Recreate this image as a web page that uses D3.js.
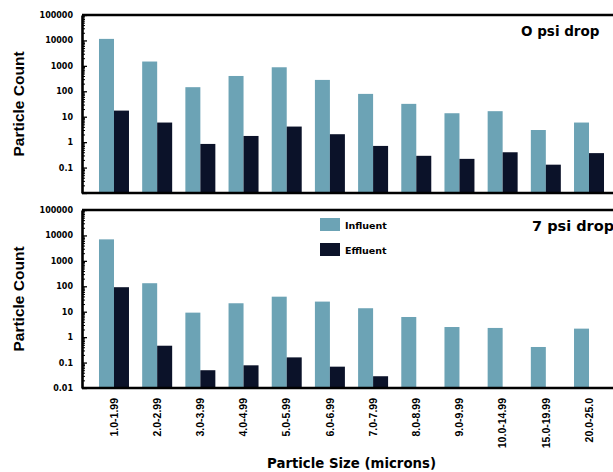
<!DOCTYPE html>
<html>
<head>
<meta charset="utf-8">
<script src="https://cdn.jsdelivr.net/npm/d3@7"></script>
<style>
  html, body { margin: 0; padding: 0; background: #fff; }
  svg { display: block; }
  .wide { font-family: "DejaVu Sans", sans-serif; font-weight: bold; }
  .narrow { font-family: "Liberation Sans", Arial, sans-serif; font-weight: bold; }
</style>
</head>
<body>
<svg id="chart" width="613" height="472"></svg>
<script>
// Particle size bins (microns)
const categories = ["1.0-1.99", "2.0-2.99", "3.0-3.99", "4.0-4.99", "5.0-5.99", "6.0-6.99",
                    "7.0-7.99", "8.0-8.99", "9.0-9.99", "10.0-14.99", "15.0-19.99", "20.0-25.0"];

// 0 psi drop
const influent0 = [11500, 1480, 145, 400, 880, 280, 79, 32, 13.7, 16.5, 3.0, 5.9];
const effluent0 = [17.4, 5.9, 0.85, 1.75, 4.1, 2.05, 0.71, 0.29, 0.22, 0.40, 0.13, 0.37];

// 7 psi drop
const influent7 = [7000, 132, 9.2, 21.5, 39, 25, 13.7, 6.2, 2.5, 2.3, 0.41, 2.16];
const effluent7 = [92, 0.46, 0.05, 0.078, 0.16, 0.069, 0.029, null, null, null, null, null];

const seriesNames = ["Influent", "Effluent"];
const yTickValues = [0.01, 0.1, 1, 10, 100, 1000, 10000, 100000];
const panelTitles = ["O psi drop", "7 psi drop"];

const colors = { Influent: "#6ca3b5", Effluent: "#0b1229" };

const svg = d3.select("#chart");
const left = 82, right = 621;

const x = d3.scaleBand()
  .domain(categories)
  .range([left, right])
  .paddingInner(0.3056)
  .paddingOuter(0.3935);

const xSub = d3.scaleBand()
  .domain(seriesNames)
  .range([0, x.bandwidth()])
  .padding(0);

// minor ticks at 2..9 of each decade
const minorTicks = [];
for (let e = -2; e < 5; e++) {
  for (let m = 2; m <= 9; m++) minorTicks.push(m * Math.pow(10, e));
}

const fmt = d => d >= 1 ? String(d) : String(+d.toPrecision(1));

function drawPanel(top, bottom, influent, effluent, title, opts) {
  const y = d3.scaleLog().domain([0.01, 100000]).range([bottom, top]);
  const g = svg.append("g");

  // bars
  const rows = categories.map((c, i) => ({ c, Influent: influent[i], Effluent: effluent[i] }));
  const grp = g.selectAll("g.grp").data(rows).join("g")
    .attr("transform", d => `translate(${x(d.c)},0)`);
  grp.selectAll("rect")
    .data(d => seriesNames.map(s => ({ s, v: d[s] })).filter(e => e.v != null))
    .join("rect")
    .attr("x", e => xSub(e.s))
    .attr("width", xSub.bandwidth())
    .attr("y", e => y(e.v))
    .attr("height", e => y(0.01) - y(e.v))
    .attr("fill", e => colors[e.s]);

  // left axis with inward ticks
  const labelled = opts.showBottomLabel ? yTickValues : yTickValues.filter(v => v > 0.01);
  const yAxis = g.append("g")
    .attr("transform", `translate(${left},0)`)
    .call(d3.axisLeft(y).tickValues(yTickValues).tickSize(-5).tickSizeOuter(0)
      .tickPadding(9).tickFormat(d => labelled.includes(d) ? fmt(d) : ""));
  yAxis.select(".domain").attr("stroke", "#000").attr("stroke-width", 2.6);
  yAxis.selectAll(".tick line").attr("stroke", "#000").attr("stroke-width", 1.3);
  yAxis.selectAll(".tick text").attr("class", "wide").attr("font-size", 8).attr("fill", "#000");

  const yMinor = g.append("g")
    .attr("transform", `translate(${left},0)`)
    .call(d3.axisLeft(y).tickValues(minorTicks).tickSize(-3).tickSizeOuter(0).tickFormat(""));
  yMinor.select(".domain").remove();
  yMinor.selectAll(".tick line").attr("stroke", "#000").attr("stroke-width", 1);

  // top frame line
  const tAxis = g.append("g")
    .attr("transform", `translate(0,${top})`)
    .call(d3.axisTop(x).tickSize(0).tickSizeOuter(0).tickFormat(""));
  tAxis.select(".domain").attr("stroke", "#000").attr("stroke-width", 2.6)
    .attr("d", `M${left},0H${right}`);

  // bottom axis
  const bAxis = g.append("g")
    .attr("transform", `translate(0,${bottom})`)
    .call(d3.axisBottom(x).tickSize(0).tickSizeOuter(0)
      .tickFormat(opts.showCategories ? (d => d) : ""));
  bAxis.select(".domain").attr("stroke", "#000").attr("stroke-width", 2.6)
    .attr("d", `M${left},0H${right}`);
  if (opts.showCategories) {
    bAxis.selectAll(".tick text")
      .attr("class", "narrow")
      .attr("font-size", 10.5)
      .attr("fill", "#000")
      .attr("transform", "rotate(-90)")
      .attr("text-anchor", "end")
      .attr("x", -10)
      .attr("y", 0)
      .attr("dy", "0.35em");
  }

  // panel title
  g.append("text")
    .attr("class", "wide")
    .attr("font-size", opts.titleSize)
    .attr("x", opts.titleX)
    .attr("y", top + 21)
    .attr("fill", "#000")
    .text(title);

  // y axis title
  g.append("text")
    .attr("class", "narrow")
    .attr("font-size", 15.5)
    .attr("text-anchor", "middle")
    .attr("transform", `translate(24,${(top + bottom) / 2}) rotate(-90)`)
    .attr("fill", "#000")
    .text("Particle Count");

  if (opts.legend) {
    const lg = g.append("g").attr("transform", `translate(320,${top + 8})`);
    seriesNames.forEach((s, i) => {
      lg.append("rect").attr("x", 0).attr("y", i * 25)
        .attr("width", 20).attr("height", 13).attr("fill", colors[s]);
      lg.append("text").attr("class", "wide").attr("font-size", 9.5)
        .attr("x", 25).attr("y", i * 25 + 11).attr("fill", "#000").text(s);
    });
  }
}

drawPanel(15, 193, influent0, effluent0, panelTitles[0],
  { showBottomLabel: false, showCategories: false, legend: false, titleX: 521, titleSize: 13.5 });
drawPanel(210, 388, influent7, effluent7, panelTitles[1],
  { showBottomLabel: true, showCategories: true, legend: true, titleX: 532, titleSize: 14.5 });

// x axis title
svg.append("text")
  .attr("class", "wide")
  .attr("font-size", 13.3)
  .attr("text-anchor", "middle")
  .attr("x", (left + right) / 2)
  .attr("y", 468)
  .attr("fill", "#000")
  .text("Particle Size (microns)");
</script>
</body>
</html>
